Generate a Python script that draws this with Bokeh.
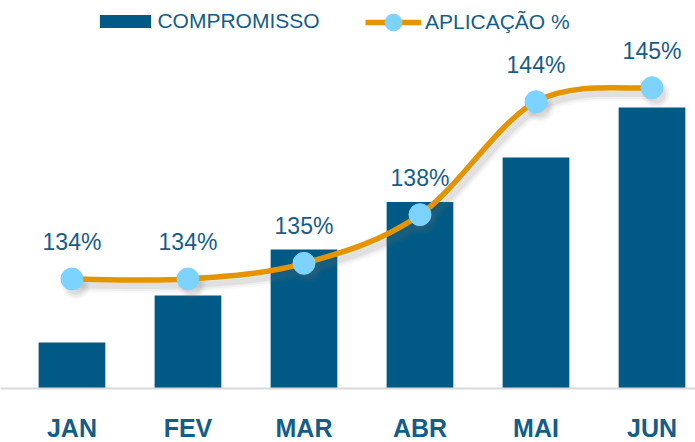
from bokeh.plotting import figure
from bokeh.models import Range1d, FixedTicker, Legend, LegendItem
from bokeh.core.properties import value
from bokeh.embed import file_html
from bokeh.resources import INLINE

# ---- data ----
months = ["JAN", "FEV", "MAR", "ABR", "MAI", "JUN"]
compromisso = [46, 93, 139, 186.5, 231, 281]
aplicacao = [134.2, 134.2, 135.1, 137.9, 144.4, 145.2]

# ---- styles ----
BAR = "#015A85"
TEXT = "#145D89"
ORANGE = "#E59400"
DOT = "#7DD3FF"
SHADOW = "#6E6E6E"

xs = list(range(len(months)))
pct_labels = [f"{round(v)}%" for v in aplicacao]

FH = 388
X0, X1 = -0.616, 5.375
P0, P1 = 127.9, 150.22
SH_DX = 4 / 116.0          # shadow offset (px -> data)
SH_DY = 6 / 17.38

p = figure(frame_width=695, frame_height=FH, output_backend="svg",
           toolbar_location=None, x_range=Range1d(X0, X1),
           y_range=Range1d(0, FH), min_border=0, y_axis_location=None,
           outline_line_color=None, background_fill_color="white",
           border_fill_color="white")
p.extra_y_ranges = {"pct": Range1d(P0, P1),
                    "pct_sh": Range1d(P0 + SH_DY, P1 + SH_DY)}
p.extra_x_ranges = {"sh": Range1d(X0 - SH_DX, X1 - SH_DX)}
p.grid.visible = False

bars = p.vbar(x=xs, top=compromisso, width=0.575, fill_color=BAR,
              line_color=BAR, line_width=0)

# smooth curve (Catmull-Rom -> cubic Bezier segments)
n = len(xs)
pts = list(zip(xs, aplicacao))
bx0, by0, bx1, by1, cx0, cy0, cx1, cy1 = [], [], [], [], [], [], [], []
for i in range(n - 1):
    pa = pts[i - 1] if i > 0 else pts[i]
    pb = pts[i]
    pc = pts[i + 1]
    pd = pts[i + 2] if i + 2 < n else pts[i + 1]
    bx0.append(pb[0]); by0.append(pb[1])
    bx1.append(pc[0]); by1.append(pc[1])
    cx0.append(pb[0] + (pc[0] - pa[0]) / 6.0)
    cy0.append(pb[1] + (pc[1] - pa[1]) / 6.0)
    cx1.append(pc[0] - (pd[0] - pb[0]) / 6.0)
    cy1.append(pc[1] - (pd[1] - pb[1]) / 6.0)

# soft shadow layers
for w, a in [(14, 0.05), (10, 0.07), (6, 0.10)]:
    p.bezier(x0=bx0, y0=by0, x1=bx1, y1=by1, cx0=cx0, cy0=cy0, cx1=cx1,
             cy1=cy1, line_color=SHADOW, line_alpha=a, line_width=w,
             x_range_name="sh", y_range_name="pct_sh")
for s, a in [(28, 0.06), (24, 0.08), (20, 0.10)]:
    p.scatter(x=xs, y=aplicacao, size=s, fill_color=SHADOW, fill_alpha=a,
              line_color=None, x_range_name="sh", y_range_name="pct_sh")

curve = p.bezier(x0=bx0, y0=by0, x1=bx1, y1=by1, cx0=cx0, cy0=cy0,
                 cx1=cx1, cy1=cy1, line_color=ORANGE, line_width=5.5,
                 y_range_name="pct")
dots = p.scatter(x=xs, y=aplicacao, size=22, fill_color=DOT,
                 line_color=DOT, y_range_name="pct")

p.text(x=xs, y=aplicacao, text=pct_labels, y_range_name="pct",
       y_offset=-37, text_align="center", text_baseline="middle",
       text_font=value("Liberation Sans"), text_font_size="23px",
       text_color=TEXT)

# x axis
ax = p.xaxis[0]
ax.ticker = FixedTicker(ticks=xs)
ax.major_label_overrides = {i: m for i, m in zip(xs, months)}
ax.axis_line_color = "#D9D9D9"
ax.axis_line_width = 2
ax.major_tick_line_color = None
ax.minor_tick_line_color = None
ax.major_label_standoff = 19
ax.major_label_text_font = "Liberation Sans"
ax.major_label_text_font_style = "bold"
ax.major_label_text_font_size = "25px"
ax.major_label_text_color = TEXT

# legends
leg1 = Legend(items=[LegendItem(label="COMPROMISSO", renderers=[bars])],
              location=(93.4, 355), orientation="horizontal",
              glyph_width=64, glyph_height=16, label_height=16,
              label_standoff=0, padding=0, margin=0, spacing=0,
              border_line_color=None, background_fill_alpha=0,
              label_text_font="Liberation Sans", label_text_font_size="21px",
              label_text_color=TEXT)
leg2 = Legend(items=[LegendItem(label="APLICAÇÃO %", renderers=[curve, dots])],
              location=(365, 345), orientation="horizontal",
              glyph_width=56, glyph_height=42, label_height=42,
              label_standoff=4, padding=0, margin=0, spacing=0,
              border_line_color=None, background_fill_alpha=0,
              label_text_font="Liberation Sans", label_text_font_size="21px",
              label_text_color=TEXT)
p.add_layout(leg1)
p.add_layout(leg2)

open("out.html", "w").write(file_html(p, INLINE))
